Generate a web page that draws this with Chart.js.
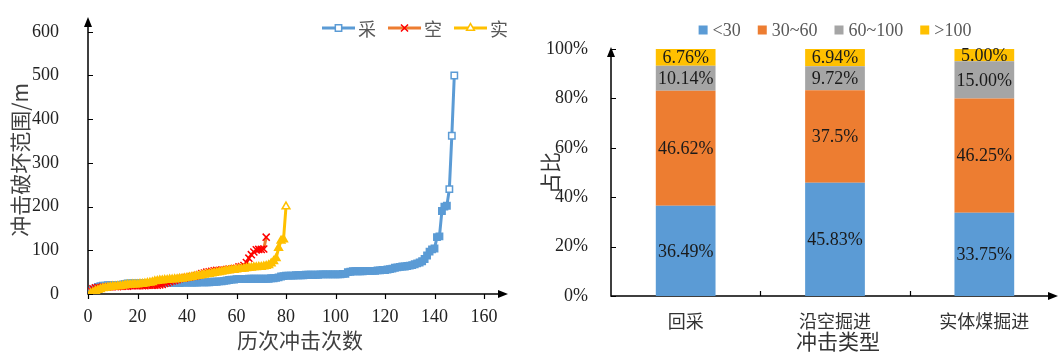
<!DOCTYPE html>
<html>
<head>
<meta charset="utf-8">
<script src="https://cdn.jsdelivr.net/npm/chart.js@4.4.1/dist/chart.umd.min.js"></script>
<style>
  html, body { margin: 0; padding: 0; background: #ffffff; }
  #wrap { position: relative; width: 1062px; height: 354px; overflow: hidden; }
  canvas { position: absolute; top: 0; }
  #impact { left: 0; }
  #share { left: 530px; }
</style>
</head>
<body>
<div id="wrap">
  <canvas id="impact" width="530" height="354"></canvas>
  <canvas id="share" width="532" height="354"></canvas>
</div>
<script>
// ---- Left chart: damage range of every rock burst, sorted ascending ----
const seriesNames = ['采', '空', '实'];

// 回采 (148 events)
const caiRange = [
  5, 9, 13, 16, 18, 19, 19, 20, 20, 20,
  21, 21, 21, 22, 23, 24, 24, 24, 24, 24,
  24, 24, 24, 24, 24, 25, 25, 25, 25, 25,
  25, 25, 25, 25, 25, 25, 25, 26, 26, 26,
  26, 26, 26, 26, 27, 27, 27, 27, 27, 28, 28, 28, 29, 29,
  30, 31, 32, 33, 33, 34, 34, 34, 34, 34,
  35, 35, 35, 35, 35, 35, 35, 35, 35, 36,
  36, 37, 38, 40, 41, 42, 42, 42, 42, 43,
  43, 43, 43, 44, 44, 44, 44, 44, 44, 45,
  45, 45, 45, 45, 45, 45, 45, 45, 46, 46,
  50, 51, 52, 52, 52, 52, 52, 53, 53, 53,
  53, 53, 54, 54, 55, 55, 56, 57, 58,
  60, 61, 62, 63, 63, 64, 65, 66, 68, 70, 72, 75, 80, 88, 97,
  102, 104, 130, 132, 190, 200, 202, 240, 362, 500
];

// 沿空掘进 (72 events)
const kongRange = [
  8, 12, 14, 15, 15, 16, 16, 16, 17, 17,
  17, 17, 18, 18, 18, 18, 19, 19, 19, 19,
  19, 19, 19, 20, 20, 20, 20, 20, 21, 22, 24, 26, 28,
  30, 31, 33, 35, 36, 37, 38, 39, 40, 41,
  42, 44, 47, 48, 50, 51, 52, 53, 54, 54,
  55, 55, 56, 57, 57, 58, 59,
  62, 63, 65, 72, 82, 90, 96,
  101, 102, 102, 103, 130
];

// 实体煤掘进 (80 events)
const shiRange = [
  1, 4, 7, 9, 11, 13, 14, 15, 16, 17,
  17, 18, 18, 19, 20, 21, 21, 22, 22, 22,
  23, 23, 24, 25, 26, 27, 29,
  30, 31, 31, 32, 32, 33, 33, 34, 34, 35,
  35, 36, 37, 38, 39, 40, 41, 42, 43, 44,
  45, 46, 47, 48, 49, 50, 51, 52, 53, 54,
  55, 55, 56, 57, 57, 58, 59,
  60, 60, 61, 61, 62, 62, 63, 64, 66, 70, 75, 82,
  105, 122, 125, 200
];

const countAxis = { min: 0, max: 160, step: 20 };
const rangeAxis = { min: 0, max: 600, step: 100 };

// ---- Right chart: share of each damage-range band per burst type ----
const burstTypes = ['回采', '沿空掘进', '实体煤掘进'];
const bandNames = ['<30', '30~60', '60~100', '>100'];
const shareBelow30 = ['36.49', '45.83', '33.75'];
const share30to60 = ['46.62', '37.5', '46.25'];
const share60to100 = ['10.14', '9.72', '15.00'];
const shareAbove100 = ['6.76', '6.94', '5.00'];

const SERIF = "'Liberation Serif', 'DejaVu Serif', serif";
const CJK = "'Noto Sans CJK SC', 'Noto Sans', sans-serif";
const BLUE = '#5B9BD5', ORANGE = '#ED7D31', GREY = '#A5A5A5', GOLD = '#FFC000';

// draws one marker shape (used by the hand-drawn legend)
function drawMarker(ctx, style, x, y, r) {
  ctx.beginPath();
  if (style === 'rect') {
    const s = Math.SQRT1_2 * r;
    ctx.rect(x - s, y - s, 2 * s, 2 * s);
    ctx.fill(); ctx.stroke();
  } else if (style === 'triangle') {
    for (let k = 0; k < 3; k++) {
      const a = k * 2 * Math.PI / 3;
      const px = x + Math.sin(a) * r, py = y - Math.cos(a) * r;
      k ? ctx.lineTo(px, py) : ctx.moveTo(px, py);
    }
    ctx.closePath(); ctx.fill(); ctx.stroke();
  } else if (style === 'crossRot') {
    const s = Math.SQRT1_2 * r;
    ctx.moveTo(x - s, y - s); ctx.lineTo(x + s, y + s);
    ctx.moveTo(x - s, y + s); ctx.lineTo(x + s, y - s);
    ctx.stroke();
  }
}

// markers standing apart from their neighbours get a white centre
function markerFill(color) {
  return (c) => {
    const ch = c.chart, d = c.dataset && c.dataset.data, i = c.dataIndex;
    const sx = ch.scales && ch.scales.x, sy = ch.scales && ch.scales.y;
    if (!d || !sx || !sy || !d[i]) return color;
    const px = p => [sx.getPixelForValue(p.x), sy.getPixelForValue(p.y)];
    const [x0, y0] = px(d[i]);
    let minD = Infinity;
    for (const j of [i - 1, i + 1]) {
      if (d[j]) { const [x1, y1] = px(d[j]); minD = Math.min(minD, Math.hypot(x1 - x0, y1 - y0)); }
    }
    return minD > 9 ? '#FFFFFF' : color;
  };
}

// axis lines with arrowheads and tick marks
const arrowAxes = {
  id: 'arrowAxes',
  beforeDatasetsDraw(chart, args, o) {
    const { ctx, chartArea: a, scales: { y } } = chart;
    const x0 = a.left, y0 = a.bottom;
    ctx.save();
    ctx.strokeStyle = '#000'; ctx.fillStyle = '#000';
    ctx.lineWidth = 1.5;
    ctx.beginPath();
    ctx.moveTo(x0, y0); ctx.lineTo(o.xEnd - 8, y0);
    ctx.moveTo(x0, y0 + 0.75); ctx.lineTo(x0, o.yEnd + 8);
    ctx.stroke();
    ctx.lineWidth = 1.2;
    ctx.beginPath();
    for (const t of y.ticks) {
      const py = Math.round(y.getPixelForValue(t.value)) + 0.5;
      ctx.moveTo(x0, py); ctx.lineTo(x0 + o.yTick, py);
    }
    for (const px of o.xTickPixels(chart)) {
      const p = Math.round(px) + 0.5;
      ctx.moveTo(p, y0); ctx.lineTo(p, y0 + o.xTick);
    }
    ctx.stroke();
    ctx.beginPath();
    ctx.moveTo(x0, o.yEnd); ctx.lineTo(x0 - 4, o.yEnd + 10); ctx.lineTo(x0 + 4, o.yEnd + 10); ctx.closePath();
    ctx.moveTo(o.xEnd, y0); ctx.lineTo(o.xEnd - 10, y0 - 4); ctx.lineTo(o.xEnd - 10, y0 + 4); ctx.closePath();
    ctx.fill();
    ctx.restore();
  }
};

// axis titles placed at fixed centres
const axisTitles = {
  id: 'axisTitles',
  afterDraw(chart, args, o) {
    const { ctx } = chart;
    ctx.save();
    ctx.font = o.size + 'px ' + CJK;
    ctx.fillStyle = o.color;
    ctx.textAlign = 'center'; ctx.textBaseline = 'middle';
    ctx.fillText(o.x.text, o.x.cx, o.x.cy);
    ctx.translate(o.y.cx, o.y.cy);
    ctx.rotate(-Math.PI / 2);
    ctx.fillText(o.y.text, 0, 0);
    ctx.restore();
  }
};

// legend: short line with its marker, followed by the series name
const lineLegend = {
  id: 'lineLegend',
  afterDraw(chart, args, o) {
    const { ctx } = chart;
    ctx.save();
    ctx.font = '18px ' + CJK;
    ctx.textBaseline = 'middle';
    let x = o.x;
    const y = o.y;
    chart.data.datasets.forEach(ds => {
      ctx.strokeStyle = ds.borderColor; ctx.lineWidth = 3;
      ctx.beginPath(); ctx.moveTo(x, y); ctx.lineTo(x + 33, y); ctx.stroke();
      ctx.strokeStyle = ds.pointBorderColor; ctx.fillStyle = '#FFFFFF';
      ctx.lineWidth = ds.pointBorderWidth;
      drawMarker(ctx, ds.pointStyle, x + 16.5, y, ds.pointRadius);
      ctx.fillStyle = '#595959';
      ctx.fillText(ds.label, x + 36, y + 1);
      x += 36 + ctx.measureText(ds.label).width + 12;
    });
    ctx.restore();
  }
};

// percentage text centred in each bar segment
const segmentLabels = {
  id: 'segmentLabels',
  afterDatasetsDraw(chart) {
    const { ctx } = chart;
    ctx.save();
    ctx.font = '18px ' + SERIF;
    ctx.fillStyle = '#1a1a1a';
    ctx.textAlign = 'center'; ctx.textBaseline = 'middle';
    chart.data.datasets.forEach((ds, di) => {
      chart.getDatasetMeta(di).data.forEach((bar, i) => {
        ctx.fillText(ds.labels[i] + '%', bar.x, (bar.y + bar.base) / 2 + 1);
      });
    });
    ctx.restore();
  }
};

// legend: small coloured squares with band names, centred over the plot
const squareLegend = {
  id: 'squareLegend',
  afterDraw(chart, args, o) {
    const { ctx, chartArea: a } = chart;
    ctx.save();
    ctx.font = '18px ' + SERIF;
    ctx.textBaseline = 'middle';
    const items = chart.data.datasets.map(ds => ({ c: ds.backgroundColor, t: ds.label, w: ctx.measureText(ds.label).width }));
    const total = items.reduce((s, it) => s + 9 + 5 + it.w, 0) + 17 * (items.length - 1);
    let x = (a.left + a.right) / 2 - total / 2;
    items.forEach(it => {
      ctx.fillStyle = it.c;
      ctx.fillRect(x, o.y - 4.5, 9, 9);
      ctx.fillStyle = '#595959';
      ctx.fillText(it.t, x + 14, o.y + 1);
      x += 14 + it.w + 17;
    });
    ctx.restore();
  }
};

function rankPoints(values) { return values.map((v, i) => ({ x: i + 1, y: v })); }
function bandSet(label, values, color) {
  return { label, labels: values, data: values.map(Number), backgroundColor: color, borderWidth: 0 };
}

function drawCharts() {
  new Chart(document.getElementById('impact'), {
    type: 'line',
    data: {
      datasets: [
        {
          label: seriesNames[0], data: rankPoints(caiRange), order: 3,
          borderColor: BLUE, borderWidth: 3, tension: 0,
          pointStyle: 'rect', pointRadius: 4.5, pointBorderWidth: 1.5,
          pointBorderColor: BLUE, pointBackgroundColor: markerFill(BLUE)
        },
        {
          label: seriesNames[1], data: rankPoints(kongRange), order: 2,
          borderColor: ORANGE, borderWidth: 3, tension: 0,
          pointStyle: 'crossRot', pointRadius: 5, pointBorderWidth: 1.5,
          pointBorderColor: '#FF0000', pointBackgroundColor: '#FF0000'
        },
        {
          label: seriesNames[2], data: rankPoints(shiRange), order: 1,
          borderColor: GOLD, borderWidth: 3, tension: 0,
          pointStyle: 'triangle', pointRadius: 4.5, pointBorderWidth: 1.5,
          pointBorderColor: GOLD, pointBackgroundColor: markerFill(GOLD)
        }
      ]
    },
    options: {
      responsive: false, animation: false, events: [],
      layout: { padding: { top: 18, right: 46, left: 0, bottom: 0 } },
      plugins: {
        legend: { display: false }, tooltip: { enabled: false },
        arrowAxes: {
          xEnd: 508, yEnd: 17, yTick: 5, xTick: 5,
          xTickPixels: ch => ch.scales.x.ticks.map(t => ch.scales.x.getPixelForValue(t.value))
        },
        axisTitles: {
          size: 21, color: '#404040',
          x: { text: '历次冲击次数', cx: 300, cy: 340 },
          y: { text: '冲击破坏范围/m', cx: 20, cy: 160 }
        },
        lineLegend: { x: 322, y: 28 }
      },
      scales: {
        x: {
          type: 'linear', min: countAxis.min, max: countAxis.max,
          ticks: { stepSize: countAxis.step, padding: 4, maxRotation: 0, color: '#222', font: { family: SERIF, size: 18 } },
          grid: { display: false }, border: { display: false },
          afterFit(s) { s.height = 60; }
        },
        y: {
          min: rangeAxis.min, max: rangeAxis.max,
          ticks: { stepSize: rangeAxis.step, padding: 21, color: '#222', font: { family: SERIF, size: 18 } },
          grid: { display: false }, border: { display: false },
          afterFit(s) { s.width = 88; }
        }
      }
    },
    plugins: [arrowAxes, axisTitles, lineLegend]
  });

  new Chart(document.getElementById('share'), {
    type: 'bar',
    data: {
      labels: burstTypes,
      datasets: [
        bandSet(bandNames[0], shareBelow30, BLUE),
        bandSet(bandNames[1], share30to60, ORANGE),
        bandSet(bandNames[2], share60to100, GREY),
        bandSet(bandNames[3], shareAbove100, GOLD)
      ]
    },
    options: {
      responsive: false, animation: false, events: [],
      barPercentage: 0.4, categoryPercentage: 1.0,
      layout: { padding: { top: 49, right: 3, left: 0, bottom: 0 } },
      plugins: {
        legend: { display: false }, tooltip: { enabled: false },
        arrowAxes: {
          xEnd: 528, yEnd: 47, yTick: 5, xTick: -5,
          xTickPixels: ch => {
            const a = ch.chartArea, n = ch.data.labels.length, out = [];
            for (let i = 1; i < n; i++) out.push(a.left + (a.right - a.left) * i / n);
            return out;
          }
        },
        axisTitles: {
          size: 21, color: '#333',
          x: { text: '冲击类型', cx: 308, cy: 341 },
          y: { text: '占比', cx: 20, cy: 173 }
        },
        squareLegend: { y: 30 }
      },
      scales: {
        x: {
          stacked: true,
          ticks: { padding: 6, color: '#333', font: { family: CJK, size: 18 } },
          grid: { display: false }, border: { display: false },
          afterFit(s) { s.height = 58; }
        },
        y: {
          stacked: true, min: 0, max: 100,
          ticks: { stepSize: 20, padding: 15, color: '#222', font: { family: SERIF, size: 18 }, callback: v => v + '%' },
          grid: { display: false }, border: { display: false },
          afterFit(s) { s.width = 81; }
        }
      }
    },
    plugins: [arrowAxes, axisTitles, segmentLabels, squareLegend]
  });
}

const fontLoads = [
  document.fonts.load('18px "Liberation Serif"', '0123456789%<>~'),
  document.fonts.load('21px "Noto Sans CJK SC"', '冲击破坏范围历次数类型占比回采沿空掘进实体煤')
];
Promise.all(fontLoads).catch(() => {}).then(drawCharts);
</script>
</body>
</html>
